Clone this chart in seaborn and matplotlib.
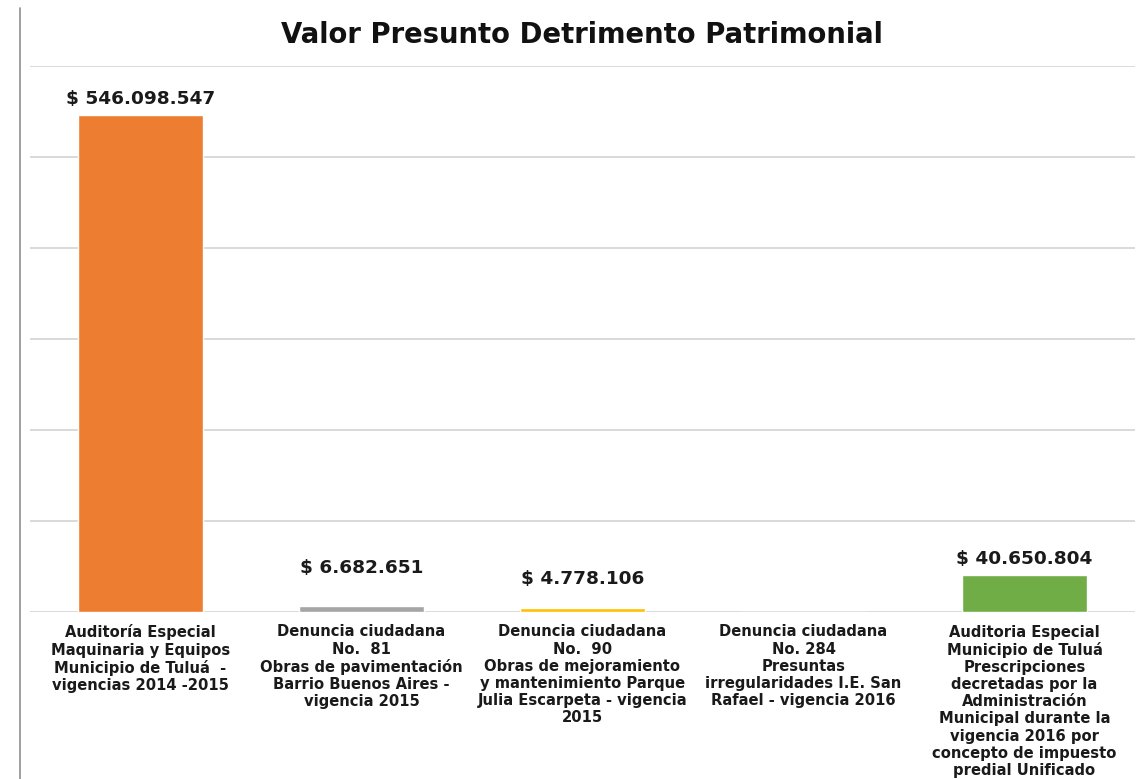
import numpy as np
import pandas as pd
import matplotlib.pyplot as plt
import seaborn as sns
from matplotlib.lines import Line2D

sns.set_theme(style="white")
plt.rcParams['font.family'] = ['DejaVu Sans']

# -------------------------------
# Data
# -------------------------------
categories = [
    "Auditoría Especial\nMaquinaria y Equipos\nMunicipio de Tuluá  -\nvigencias 2014 -2015",
    "Denuncia ciudadana\nNo.  81\nObras de pavimentación\nBarrio Buenos Aires -\nvigencia 2015",
    "Denuncia ciudadana\nNo.  90\nObras de mejoramiento\ny mantenimiento Parque\nJulia Escarpeta - vigencia\n2015",
    "Denuncia ciudadana\nNo. 284\nPresuntas\nirregularidades I.E. San\nRafael - vigencia 2016",
    "Auditoria Especial\nMunicipio de Tuluá\nPrescripciones\ndecretadas por la\nAdministración\nMunicipal durante la\nvigencia 2016 por\nconcepto de impuesto\npredial Unificado",
]
values = [546098547, 6682651, 4778106, 0, 40650804]
colors = ["#ED7D31", "#A5A5A5", "#FFC000", "#4472C4", "#70AD47"]
# vertical offset (points) of each value label above its bar
label_offsets = [5, 21, 14, None, 5]

df = pd.DataFrame({"categoria": categories, "valor": values})

# -------------------------------
# Plot
# -------------------------------
fig = plt.figure(figsize=(11.45, 7.79), dpi=100)
ax = fig.add_axes([30 / 1145, 167 / 779, 1105 / 1145, 546 / 779])

sns.barplot(data=df, x="categoria", y="valor", hue="categoria",
            palette=colors, legend=False, width=0.57, saturation=1, ax=ax)

ax.set_ylim(0, 600000000)
ax.set_yticks(np.arange(0, 600000001, 100000000))
ax.yaxis.grid(True, color="#D0D0D0", linewidth=1.1)
ax.set_axisbelow(True)
ax.tick_params(axis="y", left=False, labelleft=False)
ax.tick_params(axis="x", bottom=False, pad=3)
for lbl in ax.get_xticklabels():
    lbl.set_fontsize(10.6)
    lbl.set_fontweight("bold")
    lbl.set_linespacing(1.18)
    lbl.set_color("#1a1a1a")
for s in ax.spines.values():
    s.set_visible(False)
ax.set_xlabel("")
ax.set_ylabel("")

for i, (v, off) in enumerate(zip(values, label_offsets)):
    if off is None:
        continue
    txt = "$ " + f"{v:,.0f}".replace(",", ".")
    ax.annotate(txt, (i, v), xytext=(0, off), textcoords="offset points",
                ha="center", va="bottom", fontsize=13.3, fontweight="bold",
                color="#1a1a1a")

fig.text(0.508, 1 - 35 / 779, "Valor Presunto Detrimento Patrimonial",
         ha="center", va="center", fontsize=19.8, fontweight="bold",
         color="#111111")

# left border line of the image
fig.add_artist(Line2D([20 / 1145, 20 / 1145], [0, 1 - 8 / 779],
                      transform=fig.transFigure, color="#909090", linewidth=1.2))

fig.savefig("out.png", dpi=100)
